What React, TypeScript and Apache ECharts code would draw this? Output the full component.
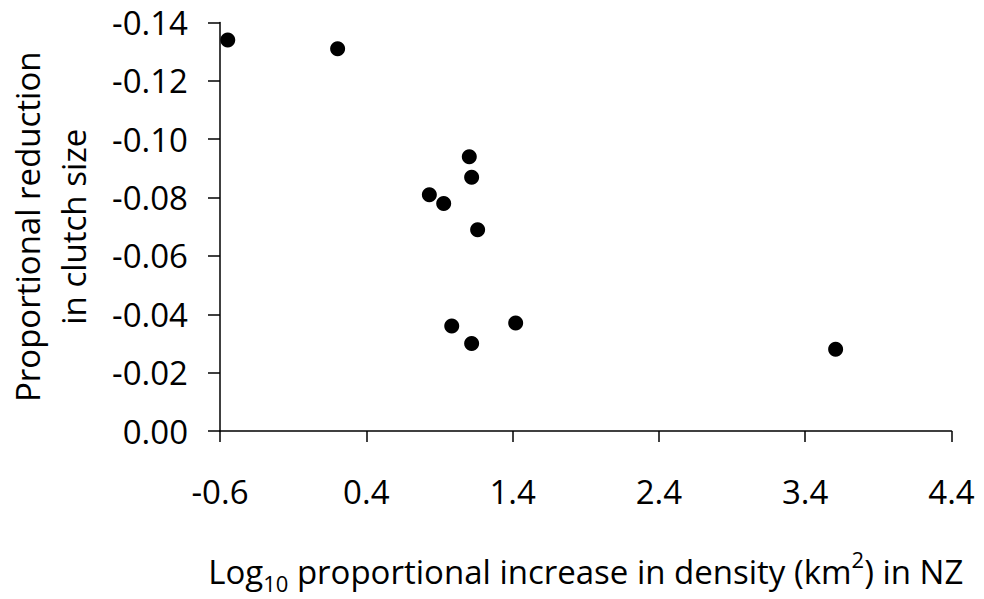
import React, { useEffect, useRef } from "react";
import * as echarts from "echarts";

const xValues: number[] = [-0.547, 0.204, 1.104, 1.12, 0.831, 0.929, 1.161, 0.984, 1.421, 1.12, 3.608];
const yValues: number[] = [-0.134, -0.131, -0.094, -0.087, -0.081, -0.078, -0.069, -0.036, -0.037, -0.030, -0.028];

const yAxisTitle = "Proportional reduction\nin clutch size";
const xAxisTitleParts = ["Log", "10", " proportional increase in density (km", "2", ") in NZ"];

const FONT = "Open Sans";
const FS = 33;

export default function App() {
  const ref = useRef<HTMLDivElement>(null);
  useEffect(() => {
    if (!ref.current) return;
    const chart = echarts.init(ref.current, null, { renderer: "svg" });
    const points = xValues.map((x, i) => [x, yValues[i]]);
    chart.setOption({
      animation: false,
      backgroundColor: "#ffffff",
      grid: { left: 220, right: 32.5, top: 22.5, bottom: 168, outerBoundsMode: "none", containLabel: false },
      xAxis: {
        type: "value",
        min: -0.6,
        max: 4.4,
        interval: 1,
        axisLine: { onZero: false, lineStyle: { color: "#000", width: 1.5 } },
        axisTick: { show: true, inside: false, length: 11, lineStyle: { color: "#000", width: 1.5 } },
        splitLine: { show: false },
        axisLabel: {
          margin: 44,
          color: "#000",
          fontFamily: FONT,
          fontSize: FS,
          formatter: (v: number) => v.toFixed(1),
        },
        name: `{n|${xAxisTitleParts[0]}}{sub|${xAxisTitleParts[1]}}{n|${xAxisTitleParts[2]}}{sup|${xAxisTitleParts[3]}}{n|${xAxisTitleParts[4]}}`,
        nameLocation: "middle",
        nameGap: 117,
        nameTextStyle: {
          color: "#000",
          fontFamily: FONT,
          fontSize: FS,
          rich: {
            n: { fontFamily: FONT, fontSize: FS, color: "#000", lineHeight: 46, verticalAlign: "middle" },
            sub: { fontFamily: FONT, fontSize: 22, color: "#000", lineHeight: 46, verticalAlign: "bottom" },
            sup: { fontFamily: FONT, fontSize: 22, color: "#000", lineHeight: 46, verticalAlign: "top" },
          },
        },
      },
      yAxis: {
        type: "value",
        min: -0.14,
        max: 0,
        interval: 0.02,
        inverse: true,
        axisLine: { show: true, onZero: false, lineStyle: { color: "#000", width: 1.5 } },
        axisTick: { show: true, inside: false, length: 12, lineStyle: { color: "#000", width: 1.5 } },
        splitLine: { show: false },
        axisLabel: {
          margin: 32,
          color: "#000",
          fontFamily: FONT,
          fontSize: FS,
          formatter: (v: number) => (Math.abs(v) < 1e-9 ? "0.00" : v.toFixed(2)),
        },
        name: yAxisTitle,
        nameLocation: "middle",
        nameRotate: 90,
        nameGap: 124,
        nameTextStyle: {
          color: "#000",
          fontFamily: FONT,
          fontSize: FS,
          lineHeight: 46,
        },
      },
      series: [
        {
          type: "scatter",
          data: points,
          symbol: "circle",
          symbolSize: 15,
          itemStyle: { color: "#000", opacity: 1 },
        },
      ],
    });
    return () => chart.dispose();
  }, []);
  return (
    <div
      ref={ref}
      style={{ position: "fixed", left: 0, top: 0, width: 984, height: 599, background: "#fff" }}
    />
  );
}
